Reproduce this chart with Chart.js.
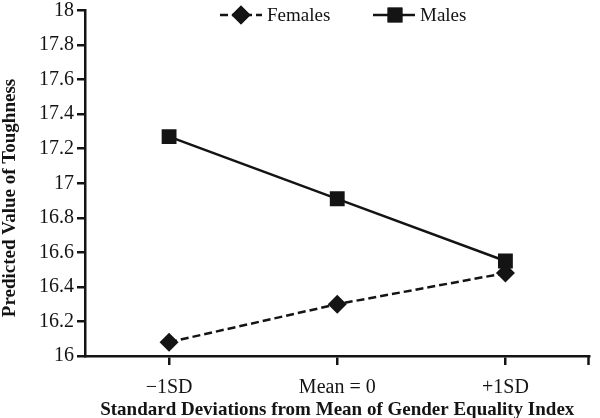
<!DOCTYPE html>
<html>
<head>
<meta charset="utf-8">
<script src="https://cdn.jsdelivr.net/npm/chart.js@4.4.0/dist/chart.umd.min.js"></script>
<style>
  html, body { margin: 0; padding: 0; background: #fff; }
  #wrap { width: 600px; height: 418px; }
</style>
</head>
<body>
<div id="wrap"><canvas id="toughness_chart" width="600" height="418"></canvas></div>
<script>
// data
const categories = ['\u22121SD', 'Mean = 0', '+1SD'];
const females = [16.08, 16.30, 16.48];
const males = [17.27, 16.91, 16.55];
const yTicks = [16, 16.2, 16.4, 16.6, 16.8, 17, 17.2, 17.4, 17.6, 17.8, 18];
const yTitle = 'Predicted Value of Toughness';

const ink = '#141414';
const serif = "'Liberation Serif', 'DejaVu Serif', serif";

// legend with line + marker across the top, y title, and right end tick
const extras = {
    id: 'extras',
    afterDraw(chart) {
        const ctx = chart.ctx;
        const y = 15;
        const items = [
            { ds: chart.data.datasets[0], x0: 220, x1: 262, mx: 241, tx: 267 },
            { ds: chart.data.datasets[1], x0: 373, x1: 415, mx: 395, tx: 420 }
        ];
        ctx.save();
        items.forEach(function (it) {
            ctx.strokeStyle = ink;
            ctx.lineWidth = 2.5;
            ctx.setLineDash(it.ds.borderDash || []);
            ctx.beginPath();
            ctx.moveTo(it.x0, y);
            ctx.lineTo(it.x1, y);
            ctx.stroke();
            ctx.setLineDash([]);
            ctx.fillStyle = ink;
            Chart.helpers.drawPoint(ctx, {
                pointStyle: it.ds.pointStyle,
                radius: it.ds.pointRadius,
                borderWidth: 0
            }, it.mx, y);
            ctx.fill();
            ctx.font = "19px " + serif;
            ctx.textBaseline = 'middle';
            ctx.textAlign = 'left';
            ctx.fillText(it.ds.label, it.tx, y + 1);
        });

        // y axis title
        ctx.save();
        ctx.translate(10, 198);
        ctx.rotate(-Math.PI / 2);
        ctx.font = "bold 19px " + serif;
        ctx.textAlign = 'center';
        ctx.textBaseline = 'middle';
        ctx.fillText(yTitle, 0, 0);
        ctx.restore();

        // tick mark at right end of x axis
        const xs = chart.scales.x;
        ctx.strokeStyle = ink;
        ctx.lineWidth = 2.5;
        ctx.beginPath();
        ctx.moveTo(xs.right - 1, xs.top);
        ctx.lineTo(xs.right - 1, xs.top + 9);
        ctx.stroke();
        ctx.restore();
    }
};

const ctx = document.getElementById('toughness_chart').getContext('2d');
const myChart = new Chart(ctx, {
    type: 'line',
    data: {
        labels: categories,
        datasets: [{
            label: 'Females',
            data: females,
            borderColor: ink,
            backgroundColor: ink,
            borderWidth: 2.5,
            borderDash: [8, 4],
            pointStyle: 'rectRot',
            pointRadius: 9.5,
            pointBorderWidth: 0,
            tension: 0
        }, {
            label: 'Males',
            data: males,
            borderColor: ink,
            backgroundColor: ink,
            borderWidth: 2.5,
            pointStyle: 'rect',
            pointRadius: 10.5,
            pointBorderWidth: 0,
            tension: 0
        }]
    },
    options: {
        responsive: false,
        animation: false,
        layout: { padding: { top: 5, right: 2, left: 0, bottom: 0 } },
        plugins: {
            legend: { display: false },
            tooltip: { enabled: false }
        },
        scales: {
            x: {
                offset: true,
                grid: { offset: false, drawOnChartArea: false, drawTicks: true, tickLength: 9, color: ink, lineWidth: 2.5 },
                border: { color: ink, width: 2.5 },
                ticks: { color: ink, font: { family: serif, size: 20 }, padding: 11, maxRotation: 0 },
                title: {
                    display: true,
                    text: 'Standard Deviations from Mean of Gender Equality Index',
                    color: ink,
                    font: { family: serif, size: 19, weight: 'bold' },
                    padding: { top: 0, bottom: -3 }
                },
                afterFit(scale) { scale.height = 62; }
            },
            y: {
                min: 16,
                max: 18,
                afterBuildTicks(scale) { scale.ticks = yTicks.map(v => ({ value: v })); },
                grid: { drawOnChartArea: false, drawTicks: true, tickLength: 8, color: ink, lineWidth: 2.5 },
                border: { color: ink, width: 2.5 },
                ticks: {
                    color: ink,
                    font: { family: serif, size: 20 },
                    padding: 3,
                    callback: v => String(Math.round(v * 10) / 10)
                },
                afterFit(scale) {
                    scale.width = 85;
                    scale.paddingTop = 0;
                    scale.paddingBottom = 0;
                }
            }
        }
    },
    plugins: [extras]
});
</script>
</body>
</html>
